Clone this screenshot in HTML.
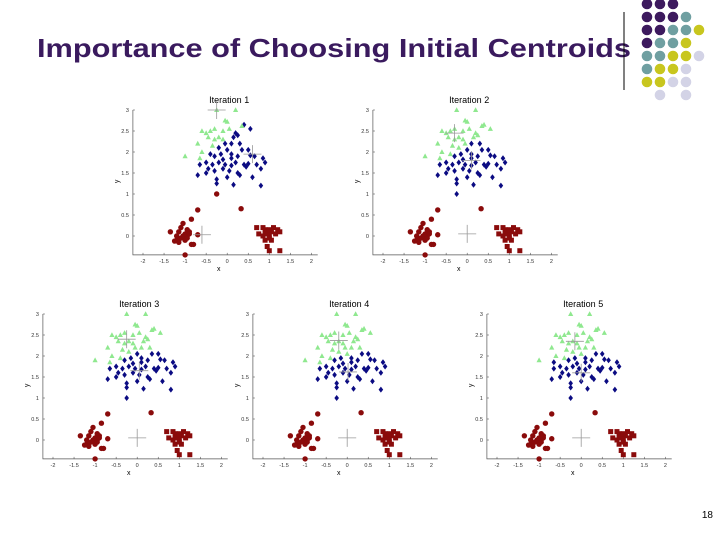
<!DOCTYPE html>
<html><head><meta charset="utf-8"><style>
html,body{margin:0;padding:0;background:#fff}
svg{display:block;font-family:"Liberation Sans",Arial,sans-serif}
</style></head><body>
<svg id="s" width="720" height="540" viewBox="0 0 720 540">
<text x="37" y="57" font-size="26" font-weight="bold" fill="#3a1a5e" textLength="594" lengthAdjust="spacingAndGlyphs">Importance of Choosing Initial Centroids</text>
<line x1="624" y1="12" x2="624" y2="90" stroke="#000" stroke-width="1"/>
<g id="deco"></g>
<text x="713" y="518" font-size="10" text-anchor="end" fill="#000">18</text>
<g id="plots"></g>
</svg>
<script>
const ptsX=[-0.25,0.2,-0.05,0.0,0.4,0.35,-0.6,-0.5,-0.4,-0.3,-0.1,0.05,0.2,0.55,-0.45,-0.3,-0.7,-1.0,-0.65,-0.2,0.15,0.25,-0.1,0.3,-0.05,0.1,-0.35,-0.2,0.5,0.0,-0.4,-0.3,-0.15,0.1,0.25,0.55,0.65,0.85,0.9,-0.65,-0.5,-0.35,-0.2,-0.05,0.1,0.2,0.4,0.5,0.8,-0.7,-0.5,-0.3,-0.1,0.05,0.25,0.3,0.6,-0.25,-0.25,0.15,0.8,-0.25,-0.6,0.35,0.1,-0.1,0.45,0.7,-0.45,0.0,
-0.7,0.33,
-1.35,-1.2,-1.15,-1.1,-1.05,-1.0,-0.95,-1.1,-1.05,-0.95,-0.9,-0.85,-0.85,-0.8,-0.9,-1.2,-1.15,-1.25,-1.0,-0.7,-1.0,-0.95,
0.7,0.75,0.85,0.9,0.95,1.0,1.05,1.1,1.15,1.2,1.25,0.9,0.95,0.9,1.0,1.05,1.0,1.25,1.0,0.85];
const ptsY=[3.0,3.0,2.75,2.72,2.65,2.62,2.5,2.45,2.5,2.55,2.5,2.55,2.45,2.55,2.35,2.3,2.2,1.9,1.85,2.35,2.35,2.4,2.3,2.2,2.2,2.2,2.15,2.1,2.05,2.05,1.95,1.9,1.95,1.95,1.9,1.92,1.9,1.85,1.75,1.7,1.75,1.7,1.75,1.7,1.68,1.75,1.7,1.72,1.6,1.45,1.5,1.55,1.6,1.55,1.5,1.45,1.4,1.35,1.25,1.22,1.2,1.0,2.0,2.05,1.85,1.82,1.65,1.7,1.6,1.4,
0.62,0.65,
0.1,-0.1,-0.15,-0.05,0.0,0.05,0.0,0.2,0.3,0.15,0.1,0.4,-0.2,-0.2,0.05,0.0,0.1,-0.12,-0.45,0.03,-0.1,-0.05,
0.2,0.05,0.0,0.15,0.1,0.0,0.1,0.2,0.05,0.15,0.1,-0.1,-0.25,0.05,0.15,-0.1,-0.05,-0.35,-0.35,0.2];
const iterTitles=["Iteration 1","Iteration 2","Iteration 3","Iteration 4","Iteration 5"];
const cenX=[[-0.25,0.6,-0.6],[-0.3,0.1,0.0],[-0.25,0.05,0.0],[-0.2,0.02,0.0],[-0.15,0.0,0.0]];
const cenY=[[3.0,1.95,0.03],[2.45,1.8,0.05],[2.4,1.65,0.05],[2.37,1.62,0.05],[2.35,1.6,0.05]];
const xTicks=[-2,-1.5,-1,-0.5,0,0.5,1,1.5,2];
const xTickLabels=["-2","-1.5","-1","-0.5","0","0.5","1","1.5","2"];
const yTicks=[0,0.5,1,1.5,2,2.5,3];
const yTickLabels=["0","0.5","1","1.5","2","2.5","3"];

const NS="http://www.w3.org/2000/svg";
function mk(t,a,p){const e=document.createElementNS(NS,t);for(const k in a)e.setAttribute(k,a[k]);p.appendChild(e);return e;}

const decoRows=[["P","P","P"],["P","P","P","T"],["P","P","T","T","Y"],["P","T","T","Y"],["T","T","Y","Y","L"],["T","Y","Y","L"],["Y","Y","L","L"],["","L","","L"]];
const decoCol={P:"#3d1a5e",T:"#6f9fa1",Y:"#c8c61e",L:"#d3d3e6"};
const deco=document.getElementById('deco');
decoRows.forEach((r,i)=>r.forEach((c,j)=>{if(!c)return;const d=mk('circle',{cx:647+j*13,cy:4+i*13,r:5.3,fill:decoCol[c]},deco);

}));

const origins=[[143,110],[383,110],[53,314],[263,314],[497,314]];
const PX=42.1, PY=42.0;
const colors=["#8fe88f","#0b0b82","#8a0b0b"];
const plots=document.getElementById('plots');
iterTitles.forEach((title,it)=>{
  const [ox,oy]=origins[it];
  const sx=v=>ox+(v+2)*PX, sy=v=>oy+(3-v)*PY;
  const g=mk('g',{},plots);
  
  
  const x0=sx(-2.24), x1=sx(2.15), y0=sy(-0.45), y1=sy(3.0);
  const ax=mk('path',{d:`M${x0},${y1}V${y0}H${x1}`,stroke:"#555",fill:"none","stroke-width":0.7},g);
  
  
  xTicks.forEach((t,i)=>{mk('line',{x1:sx(t),x2:sx(t),y1:y0,y2:y0-2,stroke:"#555","stroke-width":0.6},g);
    const l=mk('text',{x:sx(t),y:y0+8,"font-size":5.5,"text-anchor":"middle",fill:"#333"},g);l.textContent=xTickLabels[i];
    
    });
  yTicks.forEach((t,i)=>{mk('line',{x1:x0,x2:x0+2,y1:sy(t),y2:sy(t),stroke:"#555","stroke-width":0.6},g);
    const l=mk('text',{x:x0-4,y:sy(t)+2,"font-size":5.5,"text-anchor":"end",fill:"#333"},g);l.textContent=yTickLabels[i];
    
    });
  const tt=mk('text',{x:sx(0)+2,y:oy-7,"font-size":9,"text-anchor":"middle",fill:"#000"},g);tt.textContent=title;
  
  
  const xl=mk('text',{x:sx(-0.2),y:y0+16,"font-size":7,"text-anchor":"middle",fill:"#000"},g);xl.textContent="x";
  
  
  const yl=mk('text',{x:x0-14,y:sy(1.3),"font-size":7,"text-anchor":"middle",fill:"#000",transform:`rotate(-90 ${x0-14} ${sy(1.3)})`},g);yl.textContent="y";
  
  
  ptsX.forEach((px,i)=>{const py=ptsY[i];let best=0,bd=1e9;
    for(let k=0;k<3;k++){const d=(px-cenX[it][k])**2+(py-cenY[it][k])**2;if(d<bd){bd=d;best=k;}}
    const cx=sx(px),cy=sy(py);let m;
    if(best===2&&px>0.6&&py<0.5){m=mk('rect',{x:cx-2.5,y:cy-2.5,width:5,height:5,fill:colors[2]},g);}
    else if(best===0){m=mk('path',{d:`M${cx},${cy-2.8}L${cx+2.6},${cy+2}L${cx-2.6},${cy+2}Z`,fill:colors[0]},g);}
    else if(best===1){m=mk('path',{d:`M${cx},${cy-3}L${cx+2.3},${cy}L${cx},${cy+3}L${cx-2.3},${cy}Z`,fill:colors[1]},g);}
    else {m=mk('circle',{cx:cx,cy:cy,r:2.7,fill:colors[2]},g);}
    
    });
  for(let k=0;k<3;k++){const cx=sx(cenX[it][k]),cy=sy(cenY[it][k]);
    const c=mk('path',{d:`M${cx-9},${cy}H${cx+9}M${cx},${cy-9}V${cy+9}`,stroke:"#999","stroke-width":0.8,fill:"none"},g);
    
    }
});
</script>
</body></html>
